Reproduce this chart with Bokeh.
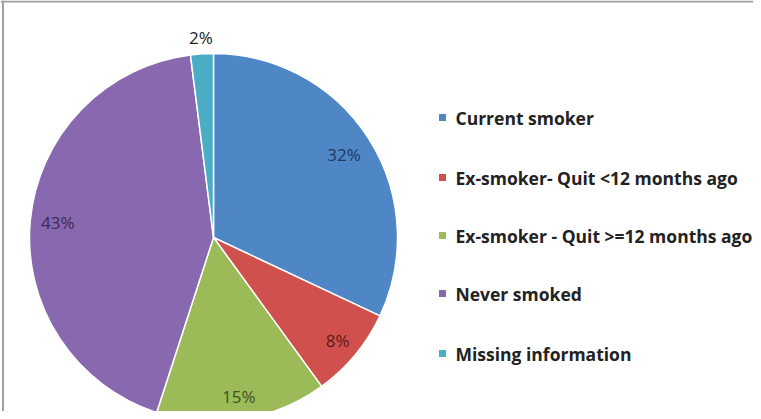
import math
from bokeh.plotting import figure
from bokeh.models import Range1d, ColumnDataSource, Span
from bokeh.core.properties import value
from bokeh.embed import file_html
from bokeh.resources import INLINE

categories = ["Current smoker", "Ex-smoker- Quit <12 months ago",
              "Ex-smoker - Quit >=12 months ago", "Never smoked", "Missing information"]
shares = [32, 8, 15, 43, 2]
pct_labels = ["32%", "8%", "15%", "43%", "2%"]
colors = ["#4F86C6", "#D0504D", "#9BBB59", "#8868AE", "#4BACC6"]
label_colors = ["#1F3864", "#5A1A18", "#3F5220", "#3A2A55", "#222222"]

W, H = 753, 411
p = figure(width=W, height=H, output_backend="svg", toolbar_location=None,
           x_range=Range1d(0, W), y_range=Range1d(0, H), min_border=0)
p.axis.visible = False
p.grid.visible = False
p.outline_line_color = None
p.background_fill_color = "white"
p.border_fill_color = "white"

# frame lines (top and left), as in the reference
p.add_layout(Span(location=H - 1, dimension="width", line_color="#a0a0a0", line_width=2))
p.add_layout(Span(location=2.5, dimension="height", line_color="#a0a0a0", line_width=2))

cx, cy, r = 213, H - 237, 184
total = sum(shares)
starts, ends, lx, ly = [], [], [], []
cum = 0
label_r = [0.84, 0.875, 0.875, 0.85, 1.087]
for i, s in enumerate(shares):
    a0 = math.pi / 2 - cum / total * 2 * math.pi
    cum += s
    a1 = math.pi / 2 - cum / total * 2 * math.pi
    starts.append(a0)
    ends.append(a1)
    mid = (a0 + a1) / 2
    lx.append(cx + label_r[i] * r * math.cos(mid))
    ly.append(cy + label_r[i] * r * math.sin(mid))

src = ColumnDataSource(dict(start=starts, end=ends, color=colors))
p.wedge(x=cx, y=cy, radius=r, start_angle="start", end_angle="end", direction="clock",
        fill_color="color", line_color="white", line_width=1.5, source=src)

lsrc = ColumnDataSource(dict(x=lx, y=ly, t=pct_labels, c=label_colors))
p.text(x="x", y="y", text="t", text_color="c", source=lsrc, text_align="center",
       text_baseline="middle", text_font=value("Open Sans"), text_font_size="17px")

# legend
leg_y = [H - 117, H - 177, H - 235, H - 293, H - 353]
leg_x = [442] * 5
p.scatter(x=leg_x, y=leg_y, marker="square", size=7, fill_color=colors, line_color=None)
p.text(x=[455] * 5, y=leg_y, text=categories, text_color="#222222", text_baseline="middle",
       text_font=value("Open Sans"), text_font_style="bold", text_font_size="17.5px")

open("out.html", "w").write(file_html(p, INLINE))
